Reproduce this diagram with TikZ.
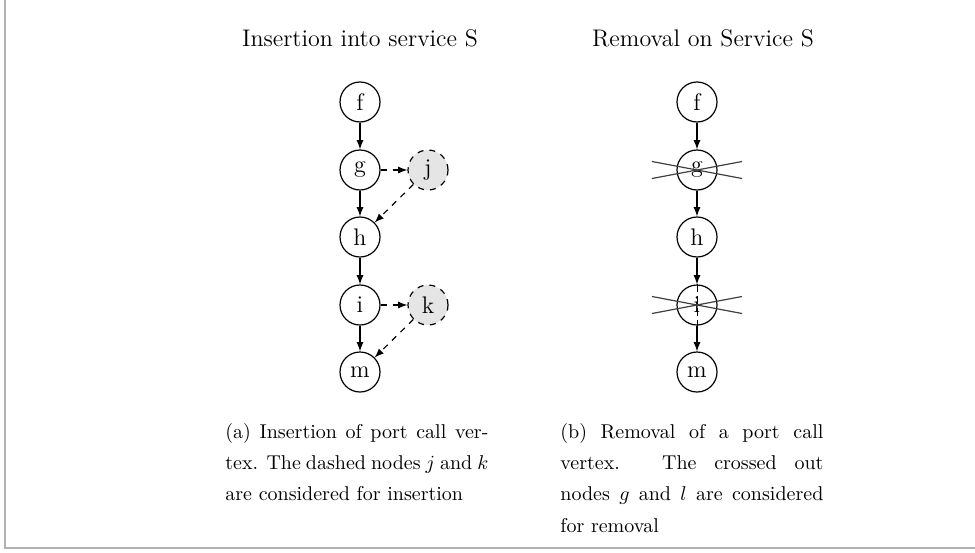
\documentclass[tikz,border=0pt]{standalone}
\usetikzlibrary{calc}

\begin{document}
\begin{tikzpicture}
[x=0.5pt,y=-0.5pt,
  lineDecorate/.style={->,>=latex,semithick},%
  dashDecorate/.style={->,>=latex,semithick,dashed},%
  nodeDecorate/.style={shape=circle,minimum size=20pt,inner sep=0pt,draw,semithick,font=\large},
  newDecorate/.style={nodeDecorate,dashed,fill=black!10},
  crossDecorate/.style={semithick,black!75},
  titleDecorate/.style={anchor=base,font=\large},
  captionDecorate/.style={anchor=north west,inner sep=0pt,text width=131.5pt,align=justify}]
\useasboundingbox (0,0) rectangle (975,552);
%% frame
\draw[black!30,line width=1pt] (5,0) -- (5,548) -- (975,548);
%% titles
\node (titleA) at (360,46) [titleDecorate] {Insertion into service S};
\node (titleB) at (703,46) [titleDecorate] {Removal on Service S};
%% nodes or vertices
\foreach \nodename/\nodetext/\x/\y in {
  f/f/360/102, g/g/360/170, h/h/360/237, i/i/360/305, m/m/360/372,
  rf/f/697/102, rg/g/697/170, rh/h/697/237, ri/i/697/305, rm/m/697/372}
{
  \node (\nodename) at (\x,\y) [nodeDecorate] {\nodetext};
}
\foreach \nodename/\x/\y in {j/428/170, k/428/305}
{
  \node (\nodename) at (\x,\y) [newDecorate] {\nodename};
}
%% edges or lines
\path
\foreach \startnode/\endnode in {f/g, g/h, h/i, i/m, rf/rg, rg/rh, rh/ri, ri/rm}
{
  (\startnode) edge[lineDecorate] (\endnode)
};
\path
\foreach \startnode/\endnode in {g/j, j/h, i/k, k/m}
{
  (\startnode) edge[dashDecorate] (\endnode)
};
%% crossed out nodes
\draw[thin,dash pattern=on 4pt off 2pt] (ri.north) -- (ri.south);
\foreach \nodename in {rg, ri}
{
  \draw[crossDecorate] ($(\nodename)+(-45,-8.5)$) -- ($(\nodename)+(45,8.5)$);
  \draw[crossDecorate] ($(\nodename)+(-45,8.5)$) -- ($(\nodename)+(45,-8.5)$);
}
%% captions
\node (capA) at (225,423) [captionDecorate]
  {\setlength{\baselineskip}{15.6pt}(a) Insertion of port call ver-\linebreak
   tex. The dashed nodes $j$ and $k$\linebreak
   are considered for insertion\par};
\node (capB) at (560,423) [captionDecorate]
  {\setlength{\baselineskip}{15.6pt}(b) Removal of a port call\linebreak
   vertex. The crossed out\linebreak
   nodes $g$ and $l$ are considered\linebreak
   for removal\par};
\end{tikzpicture}
\end{document}
